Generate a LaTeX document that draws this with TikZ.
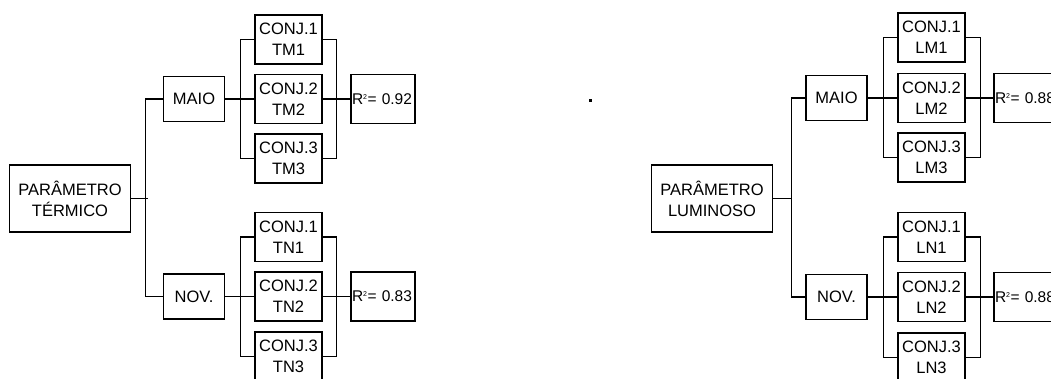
\documentclass[tikz,border=0pt]{standalone}
\usepackage{fontspec}
\setmainfont{Liberation Sans}
\newcommand{\rsq}{R\textsuperscript{\scriptsize 2}= }
\begin{document}
\begin{tikzpicture}[x=1pt,y=-1pt,
  box/.style={draw=black, line width=1.6pt, inner sep=0pt, align=center,
    font=\fontsize{16.5}{21}\selectfont},
  conj/.style={box, minimum width=67, minimum height=49},
  mid/.style={box, minimum width=61, minimum height=45},
  par/.style={box, minimum width=121, minimum height=67},
  rbox/.style={box, minimum width=64, minimum height=49, text width=62, align=left,
    font=\fontsize{15.5}{20}\selectfont},
  wire/.style={line width=1.3pt}]
\useasboundingbox (0,0) rectangle (1051,378);
\clip (0,0) rectangle (1051,378);

% ---------- thermal parameter tree ----------
\node[par]  (pt)  at (70,198.5) {PARÂMETRO\\TÉRMICO};
\node[mid]  (ma1) at (194,99)   {MAIO};
\node[mid]  (no1) at (194,296.5){NOV.};
\node[conj] (tm1) at (288.5,39.5)  {CONJ.1\\TM1};
\node[conj] (tm2) at (288.5,99)    {CONJ.2\\TM2};
\node[conj] (tm3) at (288.5,158.5) {CONJ.3\\TM3};
\node[conj] (tn1) at (288.5,237)   {CONJ.1\\TN1};
\node[conj] (tn2) at (288.5,296.5) {CONJ.2\\TN2};
\node[conj] (tn3) at (288.5,356.5) {CONJ.3\\TN3};
\node[rbox] (r1)  at (383,99)    {\rsq 0.92};
\node[rbox] (r2)  at (383,296.5) {\rsq 0.83};

\draw[wire] (pt.east) -- ++(17,0) coordinate (bt);
\draw[wire] (ma1.west) -- ++(-17,0) |- (no1.west);
\draw[wire] (ma1.east) -- (tm2.west);
\draw[wire] (tm1.west) -- ++(-14,0) |- (tm3.west);
\draw[wire] (tm1.east) -- ++(14,0) |- (tm3.east);
\draw[wire] (tm2.east) -- (r1.west);
\draw[wire] (no1.east) -- (tn2.west);
\draw[wire] (tn1.west) -- ++(-14,0) |- (tn3.west);
\draw[wire] (tn1.east) -- ++(14,0) |- (tn3.east);
\draw[wire] (tn2.east) -- (r2.west);

% ---------- luminous parameter tree ----------
\node[par]  (pl)  at (712,198.5) {PARÂMETRO\\LUMINOSO};
\node[mid]  (ma2) at (836.5,98)  {MAIO};
\node[mid]  (no2) at (836.5,297) {NOV.};
\node[conj] (lm1) at (931.5,37.5)  {CONJ.1\\LM1};
\node[conj] (lm2) at (931.5,98)    {CONJ.2\\LM2};
\node[conj] (lm3) at (931.5,157.5) {CONJ.3\\LM3};
\node[conj] (ln1) at (931.5,237)   {CONJ.1\\LN1};
\node[conj] (ln2) at (931.5,297)   {CONJ.2\\LN2};
\node[conj] (ln3) at (931.5,357.5) {CONJ.3\\LN3};
\node[rbox] (r3)  at (1026,98)  {\rsq 0.88};
\node[rbox] (r4)  at (1026,297) {\rsq 0.88};

\draw[wire] (pl.east) -- ++(18,0) coordinate (bl);
\draw[wire] (ma2.west) -- ++(-14,0) |- (no2.west);
\draw[wire] (ma2.east) -- (lm2.west);
\draw[wire] (lm1.west) -- ++(-14,0) |- (lm3.west);
\draw[wire] (lm1.east) -- ++(15,0) |- (lm3.east);
\draw[wire] (lm2.east) -- (r3.west);
\draw[wire] (no2.east) -- (ln2.west);
\draw[wire] (ln1.west) -- ++(-14,0) |- (ln3.west);
\draw[wire] (ln1.east) -- ++(15,0) |- (ln3.east);
\draw[wire] (ln2.east) -- (r4.west);

% stray ink speck between the two trees
\fill (589,99) rectangle (592,102);
\end{tikzpicture}
\end{document}
